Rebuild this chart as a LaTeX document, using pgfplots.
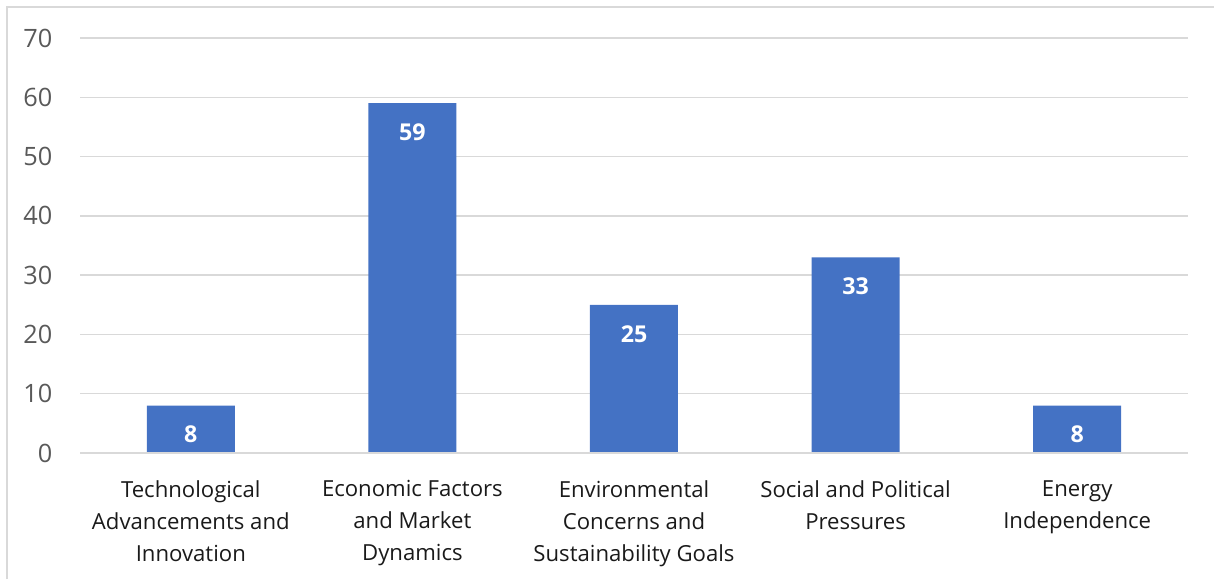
\documentclass[border=0pt]{standalone}
\usepackage{pgfplots}
\pgfplotsset{compat=1.18}
\usepackage{fontspec}
\setmainfont{Open Sans}
\definecolor{barblue}{HTML}{4472C4}
\definecolor{gridgray}{HTML}{D9D9D9}
\definecolor{ticktext}{HTML}{595959}
\definecolor{cattext}{HTML}{1A1A1A}
\begin{document}
\begin{tikzpicture}
\useasboundingbox (0,0) rectangle (12.14cm,5.79cm);
\draw[gridgray, line width=0.015cm] (0.07cm,0) -- (0.07cm,5.72cm) -- (12.14cm,5.72cm);
\begin{axis}[
  at={(0.80cm,1.26cm)}, anchor=south west,
  scale only axis, width=11.08cm, height=4.15cm,
  xmin=-0.5, xmax=4.5, ymin=0, ymax=70,
  ytick={0,10,...,70},
  xtick={0,1,2,3,4},
  xticklabels={{Technological\\Advancements and\\Innovation},{Economic Factors\\and Market\\Dynamics},{Environmental\\Concerns and\\Sustainability Goals},{Social and Political\\Pressures},{Energy\\Independence}},
  axis line style={draw=none},
  major tick length=0pt,
  ymajorgrids, grid style={gridgray, line width=0.015cm},
  /pgf/number format/assume math mode=true,
  yticklabel style={font=\fontsize{7.2pt}{8pt}\selectfont, text=ticktext, anchor=east, inner sep=0pt, xshift=-0.27cm},
  xticklabel style={font=\fontsize{6.3pt}{9.1pt}\selectfont, text=cattext, align=center, anchor=north, inner sep=0pt, yshift=-0.27cm},
  ybar, bar width=0.88cm,
  nodes near coords,
  every node near coord/.append style={font=\fontsize{6.6pt}{8pt}\selectfont\bfseries, text=white, anchor=center, yshift=-0.29cm},
  clip=false,
]
\addplot[fill=barblue, draw=none] coordinates {(0,8) (1,59) (2,25) (3,33) (4,8)};
\draw[gridgray, line width=0.015cm] (axis cs:-0.5,0) -- (axis cs:4.5,0);
\end{axis}
\end{tikzpicture}
\end{document}
